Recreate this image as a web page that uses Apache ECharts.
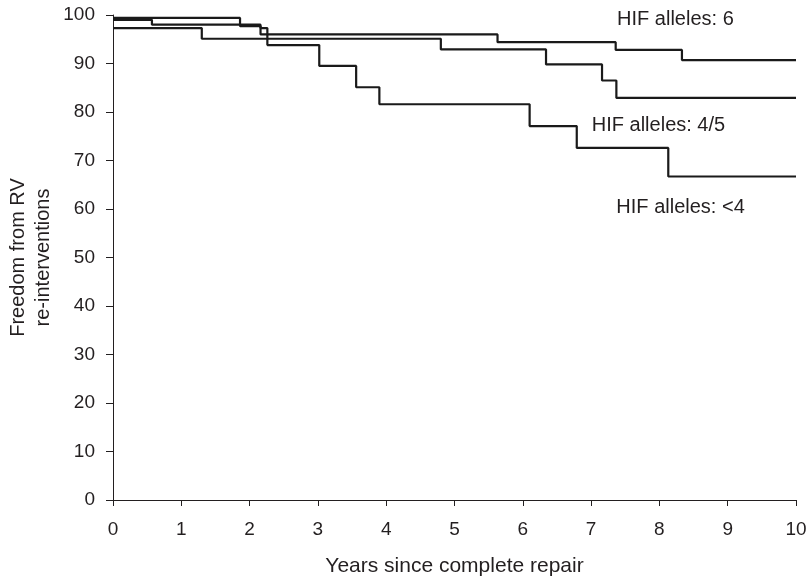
<!DOCTYPE html>
<html>
<head>
<meta charset="utf-8">
<script src="https://cdn.jsdelivr.net/npm/echarts@6/dist/echarts.min.js"></script>
<style>
  html, body { margin: 0; padding: 0; background: #fff; }
  #chart { width: 807px; height: 583px; }
</style>
</head>
<body>
<div id="chart"></div>
<script>
// Kaplan-Meier curves (time in years, freedom in %)
const allele6Years = [0, 1.86, 2.16, 5.63, 7.36, 8.33, 10];
const allele6Values = [99.4, 97.7, 96.0, 94.4, 92.8, 90.7, 90.7];

const allele45Years = [0, 1.3, 4.8, 6.34, 7.16, 7.37, 10];
const allele45Values = [97.3, 95.1, 92.9, 89.8, 86.5, 82.9, 82.9];

const alleleLt4Years = [0, 0.57, 2.16, 2.26, 3.02, 3.56, 3.9, 6.1, 6.79, 8.13, 10];
const alleleLt4Values = [99.0, 98.0, 97.3, 93.8, 89.5, 85.1, 81.6, 77.1, 72.6, 66.7, 66.7];

// curve labels: [years, percent, text]
const curveLabels = [
    [7.38, 99, 'HIF alleles: 6'],
    [7.01, 77.3, 'HIF alleles: 4/5'],
    [7.37, 60.4, 'HIF alleles: <4']
];

const xTicks = [0, 10, 1];
const yTicks = [0, 100, 10];

const font = 'Liberation Sans, Arial, sans-serif';
const ink = '#231f20';

function pairs(xs, ys) {
    return xs.map((x, i) => [x, ys[i]]);
}

function stepSeries(name, xs, ys) {
    return {
        name: name,
        type: 'line',
        step: 'end',
        symbol: 'none',
        silent: true,
        lineStyle: { color: '#1a1a1a', width: 2.2 },
        data: pairs(xs, ys)
    };
}

let chart = echarts.init(document.getElementById('chart'));

let option = {
    animation: false,
    grid: { left: 113, right: 11, top: 15, bottom: 83, outerBoundsMode: 'none', containLabel: false },
    xAxis: {
        type: 'value',
        min: xTicks[0], max: xTicks[1], interval: xTicks[2],
        name: 'Years since complete repair',
        nameLocation: 'middle',
        nameGap: 56,
        nameMoveOverlap: false,
        nameTextStyle: { fontFamily: font, fontSize: 21, color: ink },
        axisLine: { lineStyle: { color: ink, width: 1 } },
        axisTick: { length: 6, lineStyle: { color: ink } },
        axisLabel: { fontFamily: font, fontSize: 19, color: ink, margin: 20 },
        splitLine: { show: false }
    },
    yAxis: {
        type: 'value',
        min: yTicks[0], max: yTicks[1], interval: yTicks[2],
        name: 'Freedom from RV\nre-interventions',
        nameLocation: 'middle',
        nameGap: 57,
        nameMoveOverlap: false,
        nameTextStyle: { fontFamily: font, fontSize: 20, color: ink, lineHeight: 25 },
        axisLine: { show: true, lineStyle: { color: ink, width: 1 } },
        axisTick: { show: true, length: 7, lineStyle: { color: ink } },
        axisLabel: { fontFamily: font, fontSize: 19, color: ink, margin: 18 },
        splitLine: { show: false }
    },
    series: [
        stepSeries('HIF alleles: 6', allele6Years, allele6Values),
        stepSeries('HIF alleles: 4/5', allele45Years, allele45Values),
        stepSeries('HIF alleles: <4', alleleLt4Years, alleleLt4Values)
    ]
};

chart.setOption(option);

// place curve labels at data coordinates
chart.setOption({
    graphic: curveLabels.map(l => {
        const p = chart.convertToPixel({ gridIndex: 0 }, [l[0], l[1]]);
        return {
            type: 'text',
            x: p[0], y: p[1],
            style: {
                text: l[2], fontFamily: font, fontSize: 20, fill: ink,
                textAlign: 'left', textVerticalAlign: 'middle'
            }
        };
    })
});
</script>
</body>
</html>
